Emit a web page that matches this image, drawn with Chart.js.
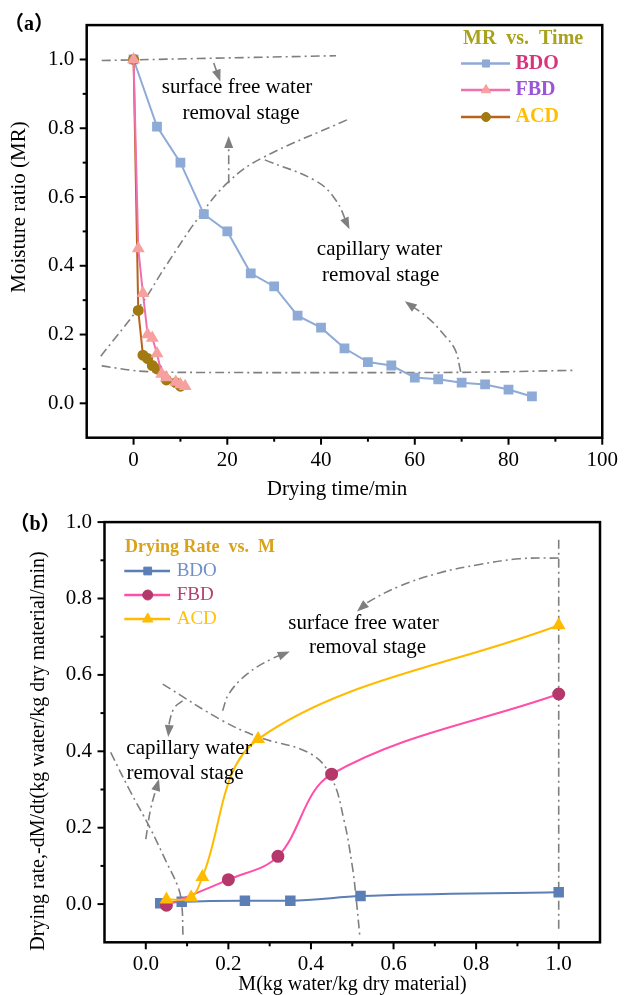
<!DOCTYPE html>
<html><head><meta charset="utf-8">
<script src="https://cdn.jsdelivr.net/npm/chart.js@4.4.0/dist/chart.umd.min.js"></script>
<style>
html,body{margin:0;padding:0;background:#fff;width:628px;height:995px;overflow:hidden}
canvas{position:absolute;left:0}
#ca{top:0}
#cb{top:497px}
</style></head><body>
<canvas id="ca" width="628" height="510"></canvas>
<canvas id="cb" width="628" height="498"></canvas>
<script>
// ---------- Panel (a): MR vs. Time ----------
const timeBDO = [0,5,10,15,20,25,30,35,40,45,50,55,60,65,70,75,80,85];
const mrBDO   = [1.0,0.805,0.70,0.55,0.50,0.378,0.34,0.255,0.22,0.16,0.12,0.11,0.075,0.07,0.06,0.055,0.04,0.02];
const timeFBD = [0,1,2,3,4,5,6,7,9,10,11];
const mrFBD   = [1.0,0.45,0.32,0.20,0.19,0.145,0.085,0.075,0.062,0.055,0.05];
const timeACD = [0,1,2,3,4,5,7,9,10];
const mrACD   = [1.0,0.27,0.14,0.13,0.11,0.10,0.068,0.06,0.05];
const xTicksA = [0,20,40,60,80,100];
const xMinorA = [10,30,50,70,90];
const yTicksA = [0,0.2,0.4,0.6,0.8,1.0];
const yMinorA = [0.1,0.3,0.5,0.7,0.9];
// guide curves (a)
const guideA_top    = [[-6.8,0.997],[43.2,1.011]];
const guideA_topArr = [[17.1,0.99],[18.3,0.944]];
const guideA_rise   = [[-7,0.137],[1.75,0.29],[6.9,0.40],[14.5,0.552],[20.4,0.646],[27.2,0.712],[45.8,0.826]];
const guideA_upArr  = [[20.3,0.64],[20.3,0.769]];
const guideA_bend   = [[28,0.708],[39,0.646],[43.2,0.59],[45.8,0.514]];
const guideA_bottom = [[-6.8,0.109],[1,0.094],[10,0.09],[70,0.09],[93.9,0.096]];
const guideA_capArr = [[69.8,0.0915],[68.6,0.156],[66,0.203],[62.7,0.25],[58.4,0.292]];

// ---------- Panel (b): Drying rate vs. M ----------
const mBDO    = [0.035,0.087,0.24,0.35,0.52,1.0];
const rateBDO = [0.002,0.006,0.009,0.009,0.021,0.031];
const mFBD    = [0.05,0.2,0.32,0.45,1.0];
const rateFBD = [-0.003,0.064,0.125,0.34,0.55];
const mACD    = [0.05,0.11,0.137,0.272,1.0];
const rateACD = [0.012,0.017,0.071,0.432,0.73];
const xTicksB = [0,0.2,0.4,0.6,0.8,1.0];
const xMinorB = [0.1,0.3,0.5,0.7,0.9];
const yTicksB = [0,0.2,0.4,0.6,0.8,1.0];
const yMinorB = [0.1,0.3,0.5,0.7,0.9];
// guide curves (b)
const guideB_vert  = [[1.0,0.954],[1.0,-0.068]];
const guideB_topArr= [[1.0,0.906],[0.905,0.904],[0.808,0.889],[0.711,0.867],[0.614,0.832],[0.536,0.789],[0.517,0.771]];
const guideB_upArr = [[0.186,0.506],[0.201,0.55],[0.245,0.602],[0.303,0.641],[0.342,0.658]];
const guideB_fall  = [[0.041,0.576],[0.186,0.48],[0.274,0.437],[0.4,0.393],[0.45,0.33],[0.48,0.22],[0.5,0.1],[0.508,0.03],[0.518,-0.08]];
const guideB_left  = [[-0.085,0.397],[-0.04,0.3],[0.01,0.2],[0.05,0.11],[0.078,0.045],[0.087,0.0],[0.09,-0.08]];
const guideB_capArr= [[0.0,0.17],[0.012,0.25],[0.03,0.32]];
const guideB_dnArr = [[0.089,0.532],[0.07,0.515],[0.058,0.48],[0.055,0.445]];

const FONT = '"Liberation Serif","Times New Roman",serif';
const GUIDE = '#7f7f7f';
function pts(xs, ys){ return xs.map((x,i)=>({x:x, y:ys[i]})); }
function pairs(a){ return a.map(p=>({x:p[0], y:p[1]})); }
function guide(arr, arrow, tension){
  return {data:pairs(arr), borderColor:GUIDE, borderWidth:1.6, borderDash:[9,4,2,4],
          pointRadius:0, tension:tension===undefined?0.4:tension, fill:false, arrow:!!arrow};
}

const decor = {
  id:'decor',
  afterDatasetsDraw(chart){
    const ctx = chart.ctx;
    chart.data.datasets.forEach((ds,i)=>{
      if(!ds.arrow) return;
      const meta = chart.getDatasetMeta(i);
      const n = meta.data.length;
      const p1 = meta.data[n-2], p2 = meta.data[n-1];
      const ang = Math.atan2(p2.y-p1.y, p2.x-p1.x);
      ctx.save();
      ctx.fillStyle = GUIDE;
      ctx.translate(p2.x, p2.y); ctx.rotate(ang);
      ctx.beginPath(); ctx.moveTo(3,0); ctx.lineTo(-9,-4.5); ctx.lineTo(-9,4.5); ctx.closePath(); ctx.fill();
      ctx.restore();
    });
  },
  afterDraw(chart, args, o){
    const ctx = chart.ctx, ca = chart.chartArea;
    const sx = chart.scales.x, sy = chart.scales.y;
    ctx.save();
    ctx.strokeStyle = '#000'; ctx.lineWidth = 2.5; ctx.setLineDash([]);
    ctx.strokeRect(ca.left, ca.top, ca.right-ca.left, ca.bottom-ca.top);
    ctx.lineWidth = 2;
    const tk = (vals, len, hor)=>vals.forEach(v=>{
      const p = (hor?sx:sy).getPixelForValue(v);
      ctx.beginPath();
      if(hor){ ctx.moveTo(p, ca.bottom); ctx.lineTo(p, ca.bottom+len); }
      else { ctx.moveTo(ca.left, p); ctx.lineTo(ca.left-len, p); }
      ctx.stroke();
    });
    tk(o.xMajor,7,true); tk(o.xMinor,4,true); tk(o.yMajor,7,false); tk(o.yMinor,4,false);
    o.texts.forEach(t=>{
      ctx.save();
      ctx.font = t.font; ctx.fillStyle = t.color || '#000';
      ctx.textAlign = t.align || 'center'; ctx.textBaseline = 'middle';
      ctx.translate(t.x, t.y);
      if(t.rot) ctx.rotate(t.rot);
      ctx.fillText(t.text, 0, 0);
      ctx.restore();
    });
    const L = o.legend;
    ctx.font = L.titleFont; ctx.fillStyle = L.titleColor; ctx.textAlign='left'; ctx.textBaseline='middle';
    ctx.fillText(L.title, L.titleX, L.titleY);
    L.items.forEach(it=>{
      ctx.strokeStyle = it.line; ctx.lineWidth = 2.5;
      ctx.beginPath(); ctx.moveTo(L.x0, it.y); ctx.lineTo(L.x1, it.y); ctx.stroke();
      ctx.fillStyle = it.point; ctx.strokeStyle = it.point; ctx.lineWidth = 1;
      Chart.helpers.drawPoint(ctx, {pointStyle:it.style, radius:it.r, rotation:0, borderWidth:1}, L.xm, it.y);
      ctx.font = L.font; ctx.fillStyle = it.color; ctx.textAlign='left'; ctx.textBaseline='middle';
      ctx.fillText(it.text, L.xt, it.y);
    });
    ctx.restore();
  }
};

function axes(xmin,xmax,ymin,ymax,xt,yt,yWidth,xHeight,fmtX){
  return {
    x:{type:'linear', min:xmin, max:xmax,
       afterBuildTicks:s=>{ s.ticks = xt.map(v=>({value:v})); },
       afterFit:s=>{ s.height = xHeight; },
       grid:{display:false, drawTicks:false}, border:{display:false},
       ticks:{autoSkip:false, maxRotation:0, padding:10, color:'#000', font:{family:FONT,size:21}, callback:fmtX}},
    y:{type:'linear', min:ymin, max:ymax,
       afterBuildTicks:s=>{ s.ticks = yt.map(v=>({value:v})); },
       afterFit:s=>{ s.width = yWidth; },
       grid:{display:false, drawTicks:false}, border:{display:false},
       ticks:{autoSkip:false, padding:12.5, color:'#000', font:{family:FONT,size:21}, callback:v=>Number(v).toFixed(1)}}
  };
}

// ---------- Chart (a) ----------
new Chart(document.getElementById('ca'), {
  type:'line',
  data:{datasets:[
    {data:pts(timeFBD,mrFBD), borderColor:'#f06fae', borderWidth:2, pointStyle:'triangle', pointRadius:5.5,
     pointBackgroundColor:'#f7a0a0', pointBorderColor:'#f7a0a0', tension:0},
    {data:pts(timeACD,mrACD), borderColor:'#b8621b', borderWidth:2, pointStyle:'circle', pointRadius:4.5,
     pointBackgroundColor:'#a27a12', pointBorderColor:'#a27a12', tension:0},
    {data:pts(timeBDO,mrBDO), borderColor:'#8eaad6', borderWidth:2, pointStyle:'rect', pointRadius:5.5,
     pointBackgroundColor:'#8eaad6', pointBorderColor:'#8eaad6', tension:0},
    guide(guideA_top,false,0), guide(guideA_topArr,true,0), guide(guideA_rise,false),
    guide(guideA_upArr,true,0), guide(guideA_bend,true), guide(guideA_bottom,false,0.3), guide(guideA_capArr,true)
  ]},
  options:{
    responsive:false, animation:false, events:[],
    layout:{padding:{top:14,right:18,left:0,bottom:0}},
    scales:axes(-10,100,-0.1,1.1,xTicksA,yTicksA,86.7,72.3,v=>String(v)),
    plugins:{legend:{display:false}, tooltip:{enabled:false},
      decor:{
        xMajor:xTicksA, xMinor:xMinorA, yMajor:yTicksA, yMinor:yMinorA,
        texts:[
          {text:'（a）', x:29, y:25, font:'bold 20px "Liberation Serif","Noto Sans CJK SC",serif'},
          {text:'Moisture ratio (MR)', x:19, y:207, rot:-Math.PI/2, font:'21px '+FONT},
          {text:'Drying time/min', x:337, y:489, font:'21px '+FONT},
          {text:'surface free water', x:237, y:87, font:'21px '+FONT},
          {text:'removal stage', x:241, y:113, font:'21px '+FONT},
          {text:'capillary water', x:379.5, y:249, font:'21px '+FONT},
          {text:'removal stage', x:380.7, y:275, font:'21px '+FONT}
        ],
        legend:{title:'MR  vs.  Time', titleX:463, titleY:38.5, titleColor:'#a8a21e', titleFont:'bold 20px '+FONT,
          font:'bold 20px '+FONT, x0:461, x1:510, xm:486, xt:515.5,
          items:[
            {text:'BDO', y:63.5, line:'#8eaad6', point:'#8eaad6', style:'rect', r:5, color:'#d8347e'},
            {text:'FBD', y:90, line:'#f06fae', point:'#f7a0a0', style:'triangle', r:5.5, color:'#9a55d8'},
            {text:'ACD', y:117, line:'#b8621b', point:'#a27a12', style:'circle', r:4.5, color:'#ffbf00'}
          ]}
      }}
  },
  plugins:[decor]
});

// ---------- Chart (b) ----------
new Chart(document.getElementById('cb'), {
  type:'line',
  data:{datasets:[
    {data:pts(mACD,rateACD), borderColor:'#ffbb00', borderWidth:2, pointStyle:'triangle', pointRadius:6,
     pointBackgroundColor:'#ffbb00', pointBorderColor:'#ffbb00', tension:0.35},
    {data:pts(mFBD,rateFBD), borderColor:'#ff4fa8', borderWidth:2, pointStyle:'circle', pointRadius:5.5,
     pointBackgroundColor:'#b5386b', pointBorderColor:'#b5386b', tension:0.35},
    {data:pts(mBDO,rateBDO), borderColor:'#5a7eb5', borderWidth:2, pointStyle:'rect', pointRadius:6,
     pointBackgroundColor:'#5a7eb5', pointBorderColor:'#5a7eb5', cubicInterpolationMode:'monotone'},
    guide(guideB_vert,false,0), guide(guideB_topArr,true), guide(guideB_upArr,true),
    guide(guideB_fall,false), guide(guideB_left,false), guide(guideB_capArr,true), guide(guideB_dnArr,true)
  ]},
  options:{
    responsive:false, animation:false, events:[],
    layout:{padding:{top:23.7,right:28,left:0,bottom:0}},
    scales:axes(-0.1,1.1,-0.1,1.0,xTicksB,yTicksB,104.5,52.7,v=>Number(v).toFixed(1)),
    plugins:{legend:{display:false}, tooltip:{enabled:false},
      decor:{
        xMajor:xTicksB, xMinor:xMinorB, yMajor:yTicksB, yMinor:yMinorB,
        texts:[
          {text:'（b）', x:35, y:28, font:'bold 20px "Liberation Serif","Noto Sans CJK SC",serif'},
          {text:'Drying rate,-dM/dt(kg water/kg dry material/min)', x:39, y:254, rot:-Math.PI/2, font:'20px '+FONT},
          {text:'M(kg water/kg dry material)', x:352.5, y:488, font:'20px '+FONT},
          {text:'surface free water', x:363.5, y:126, font:'21px '+FONT},
          {text:'removal stage', x:367.5, y:150, font:'21px '+FONT},
          {text:'capillary water', x:189, y:251, font:'21px '+FONT},
          {text:'removal stage', x:185, y:276, font:'21px '+FONT}
        ],
        legend:{title:'Drying Rate  vs.  M', titleX:125, titleY:50, titleColor:'#d9a21b', titleFont:'bold 18px '+FONT,
          font:'19px '+FONT, x0:124.3, x1:170, xm:147.7, xt:176.7,
          items:[
            {text:'BDO', y:74, line:'#5a7eb5', point:'#5a7eb5', style:'rect', r:5.5, color:'#6f8fc9'},
            {text:'FBD', y:98, line:'#ff4fa8', point:'#b5386b', style:'circle', r:5, color:'#b3426f'},
            {text:'ACD', y:122, line:'#ffbb00', point:'#ffbb00', style:'triangle', r:6, color:'#ffc20e'}
          ]}
      }}
  },
  plugins:[decor]
});
</script>
</body></html>
